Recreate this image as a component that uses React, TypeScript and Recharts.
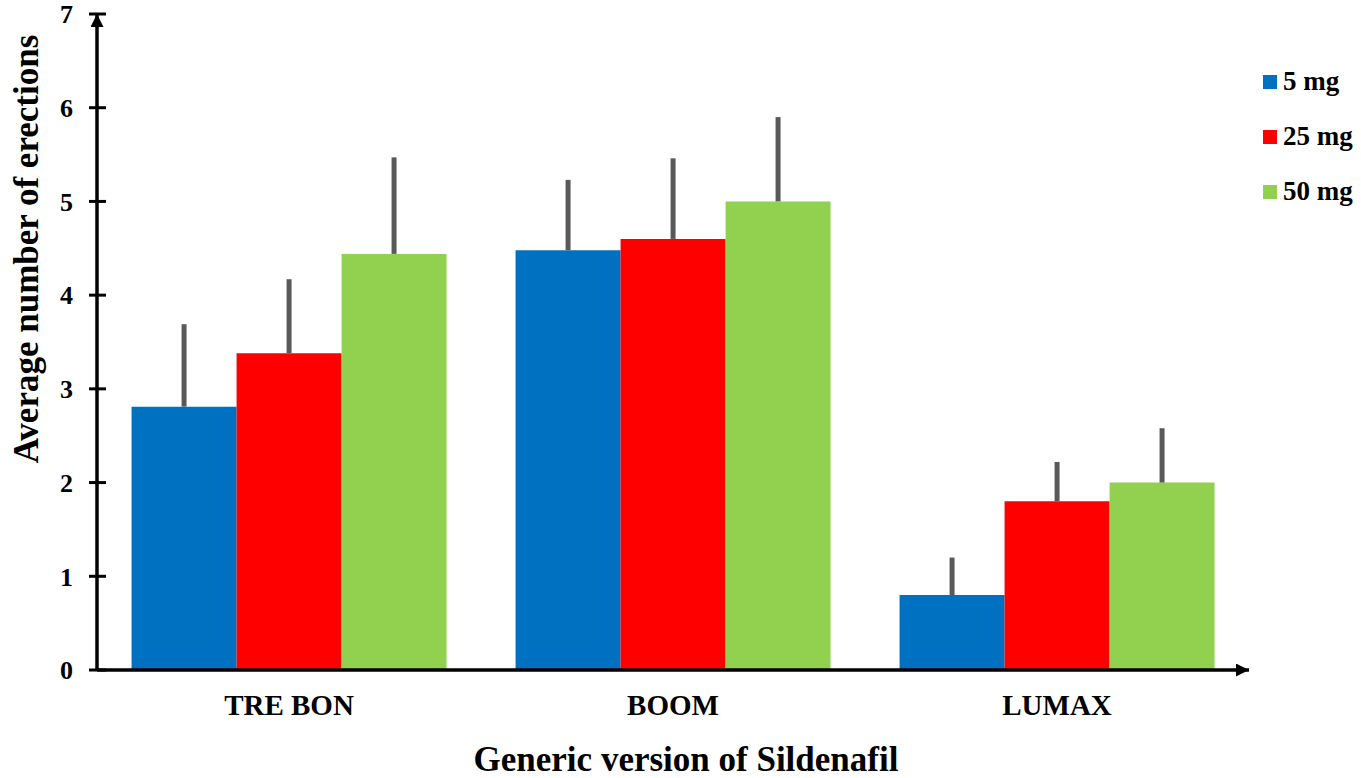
import React from "react";
import { BarChart, Bar, XAxis, YAxis, ErrorBar, Legend } from "recharts";

const categories = ["TRE BON", "BOOM", "LUMAX"];
const mg5 = [2.81, 4.48, 0.8];
const mg25 = [3.38, 4.6, 1.8];
const mg50 = [4.44, 5.0, 2.0];
const err5 = [0.88, 0.75, 0.4];
const err25 = [0.79, 0.86, 0.42];
const err50 = [1.03, 0.9, 0.58];
const yTicks = [0, 1, 2, 3, 4, 5, 6, 7];

const series = [
  { key: "mg5", err: "e5", name: "5 mg", color: "#0070C0" },
  { key: "mg25", err: "e25", name: "25 mg", color: "#FF0000" },
  { key: "mg50", err: "e50", name: "50 mg", color: "#92D050" },
];

const data = categories.map((name, i) => ({
  name,
  mg5: mg5[i],
  mg25: mg25[i],
  mg50: mg50[i],
  e5: [0, err5[i]],
  e25: [0, err25[i]],
  e50: [0, err50[i]],
}));

const FONT = "'Liberation Serif', 'Times New Roman', serif";

function LegendBox() {
  return (
    <div style={{ fontFamily: FONT, fontWeight: "bold", fontSize: 27, color: "#000" }}>
      {series.map((s) => (
        <div key={s.key} style={{ display: "flex", alignItems: "center", height: 55 }}>
          <span style={{ width: 14, height: 14, background: s.color, marginRight: 6 }} />
          <span style={{ fontFamily: FONT }}>{s.name}</span>
        </div>
      ))}
    </div>
  );
}

export default function App() {
  return (
    <div style={{ position: "absolute", left: 0, top: 0, background: "#fff", fontFamily: FONT }}>
      <BarChart
        width={1361}
        height={778}
        data={data}
        margin={{ top: 14, right: 112, left: 0, bottom: 0 }}
        barCategoryGap="9%"
        barGap={0}
        style={{ fontFamily: FONT }}
      >
        <defs>
          <marker
            id="arrow"
            viewBox="0 0 10 10"
            refX="10"
            refY="5"
            markerWidth="13"
            markerHeight="13"
            markerUnits="userSpaceOnUse"
            orient="auto-start-reverse"
          >
            <path d="M0,0 L10,5 L0,10 z" fill="#000" />
          </marker>
        </defs>
        <XAxis
          dataKey="name"
          height={108}
          tickLine={false}
          tickSize={0}
          tickMargin={24}
          axisLine={{ stroke: "#000", strokeWidth: 3.5, markerEnd: "url(#arrow)" }}
          tick={{ fontSize: 29, fontWeight: "bold", fill: "#000", fontFamily: FONT }}
          label={{
            content: () => (
              <text
                x={686}
                y={771}
                textAnchor="middle"
                fontFamily={FONT}
                fontWeight="bold"
                fontSize={35}
                fill="#000"
              >
                Generic version of Sildenafil
              </text>
            ),
          }}
        />
        <YAxis
          width={97}
          domain={[0, 7]}
          ticks={yTicks}
          interval={0}
          tickSize={17}
          tickMargin={7}
          tickLine={{ stroke: "#000", strokeWidth: 3, transform: "translate(9,0)" }}
          axisLine={{ stroke: "#000", strokeWidth: 3.5, markerStart: "url(#arrow)" }}
          tick={{ fontSize: 26, fontWeight: "bold", fill: "#000", fontFamily: FONT }}
          label={{
            content: () => (
              <text
                x={26}
                y={249}
                transform="rotate(-90 26 249)"
                textAnchor="middle"
                dominantBaseline="central"
                fontFamily={FONT}
                fontWeight="bold"
                fontSize={35}
                fill="#000"
              >
                Average number of erections
              </text>
            ),
          }}
        />
        <Legend
          layout="vertical"
          align="center"
          verticalAlign="middle"
          wrapperStyle={{ top: 54, left: 1263, width: 100 }}
          content={() => <LegendBox />}
        />
        {series.map((s) => (
          <Bar key={s.key} dataKey={s.key} name={s.name} fill={s.color} isAnimationActive={false}>
            <ErrorBar dataKey={s.err} direction="y" width={0} stroke="#595959" strokeWidth={5} />
          </Bar>
        ))}
      </BarChart>
    </div>
  );
}
